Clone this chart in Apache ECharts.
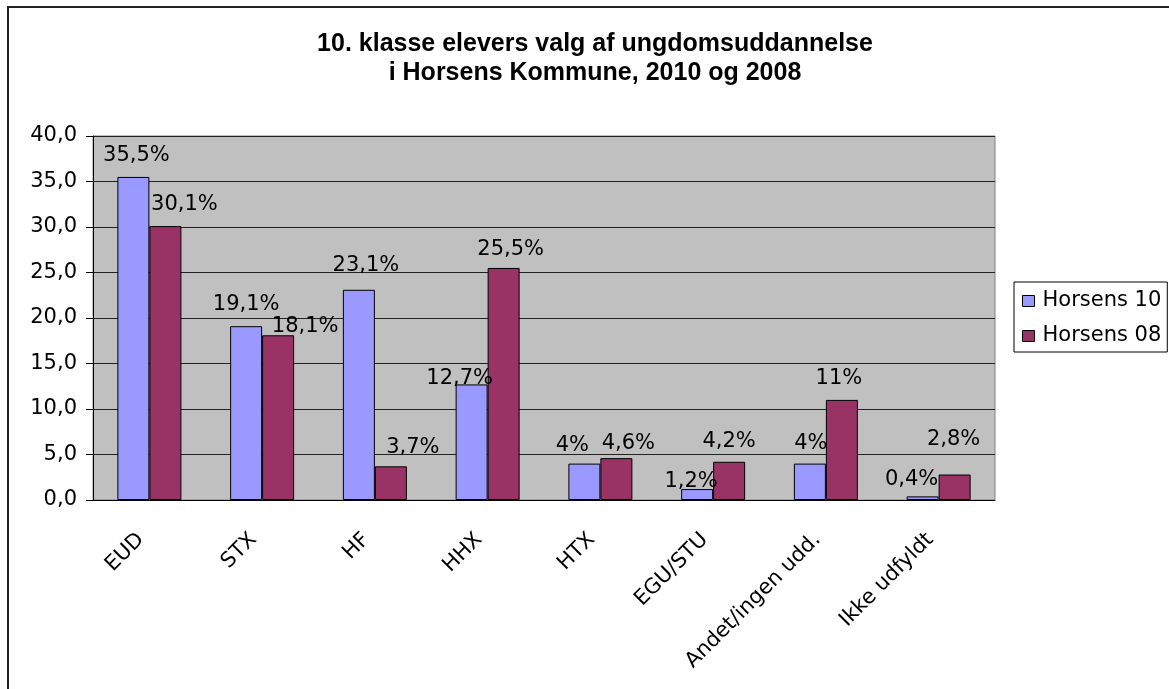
<!DOCTYPE html>
<html>
<head>
<meta charset="utf-8">
<script src="https://cdn.jsdelivr.net/npm/echarts@6/dist/echarts.min.js"></script>
<style>
  html, body { margin: 0; padding: 0; background: #fff; }
  #chartBox { width: 1169px; height: 689px; }
</style>
</head>
<body>
<div id="chartBox"></div>
<script>
// kategorier og værdier
const categories = ['EUD', 'STX', 'HF', 'HHX', 'HTX', 'EGU/STU', 'Andet/ingen udd.', 'Ikke udfyldt']
const horsens10 = [35.5, 19.1, 23.1, 12.7, 4, 1.2, 4, 0.4]
const horsens08 = [30.1, 18.1, 3.7, 25.5, 4.6, 4.2, 11, 2.8]
const seriesNames = ['Horsens 10', 'Horsens 08']
const yTicks = { min: 0, max: 40, interval: 5 }

// etiketternes forskydning [dx, dy] som i Excel-diagrammet
const labelShift10 = [[3, -3], [0, -3], [7, -6], [-12, 13], [-12, 0], [-6, 11], [1, -2], [-11, 2]]
const labelShift08 = [[19, -3], [27, 10], [22, 0], [7, 0], [12, 4], [0, -2], [-3, -3], [-1, -16]]

const labelFont = 'DejaVu Sans'
const pct = v => String(v).replace('.', ',') + '%'

let myChart = echarts.init(document.getElementById('chartBox'))

function barSeries (name, values, shifts, color) {
  return {
    name: name,
    type: 'bar',
    data: values.map((v, i) => ({ value: v, label: { offset: shifts[i] } })),
    barWidth: 32,
    barGap: '0%',
    itemStyle: { color: color, borderColor: '#000', borderWidth: 1 },
    label: {
      show: true,
      position: 'top',
      distance: 8,
      color: '#000',
      fontFamily: labelFont,
      fontSize: 21,
      formatter: p => pct(p.value)
    }
  }
}

myChart.setOption({
  animation: false,
  backgroundColor: '#fff',
  title: {
    text: '10. klasse elevers valg af ungdomsuddannelse\ni Horsens Kommune, 2010 og 2008',
    left: 590,
    top: 25,
    textAlign: 'center',
    textStyle: {
      fontFamily: 'Liberation Sans',
      fontWeight: 'bold',
      fontSize: 25,
      lineHeight: 29,
      color: '#000'
    }
  },
  legend: {
    orient: 'vertical',
    left: 1014,
    top: 282,
    padding: [7, 6, 4, 8],
    itemGap: 11,
    itemWidth: 12,
    itemHeight: 11,
    icon: 'rect',
    borderColor: '#000',
    borderWidth: 1,
    backgroundColor: '#fff',
    itemStyle: { borderColor: '#000', borderWidth: 1 },
    textStyle: { fontFamily: labelFont, fontSize: 21, lineHeight: 24, color: '#000', padding: [0, 0, 0, 3] },
    data: seriesNames
  },
  grid: {
    left: 93,
    right: 174,
    top: 136,
    bottom: 189,
    show: true,
    backgroundColor: '#c0c0c0',
    borderColor: '#808080',
    borderWidth: 1
  },
  xAxis: {
    type: 'category',
    data: categories,
    axisLine: { lineStyle: { color: '#000' } },
    axisTick: { length: 6, lineStyle: { color: '#000' } },
    axisLabel: {
      rotate: 45,
      margin: 28,
      padding: [0, 12, 0, 0],
      color: '#000',
      fontFamily: labelFont,
      fontSize: 21,
      interval: 0
    }
  },
  yAxis: {
    type: 'value',
    min: yTicks.min,
    max: yTicks.max,
    interval: yTicks.interval,
    axisLine: { show: true, lineStyle: { color: '#000' } },
    axisTick: { show: true, length: 7, lineStyle: { color: '#000' } },
    splitLine: { lineStyle: { color: '#222', width: 1 } },
    axisLabel: {
      margin: 16,
      color: '#000',
      fontFamily: labelFont,
      fontSize: 21,
      formatter: v => v.toFixed(1).replace('.', ',')
    }
  },
  graphic: [{
    // diagrammets ydre ramme (kun venstre og top er synlige)
    type: 'rect',
    silent: true,
    z: 100,
    shape: { x: 8, y: 7, width: 2000, height: 2000 },
    style: { fill: null, stroke: '#222', lineWidth: 2 }
  }],
  series: [
    barSeries(seriesNames[0], horsens10, labelShift10, '#9999ff'),
    barSeries(seriesNames[1], horsens08, labelShift08, '#993366')
  ]
})
</script>
</body>
</html>
